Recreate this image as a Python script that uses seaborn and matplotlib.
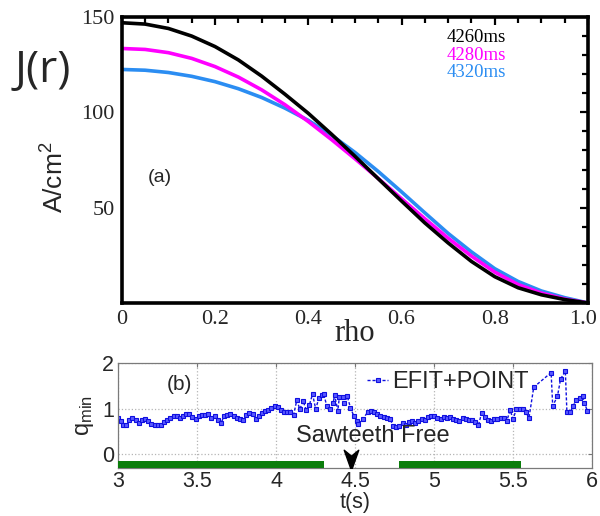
import numpy as np
import pandas as pd
import matplotlib
matplotlib.use("Agg")
import matplotlib.pyplot as plt
import matplotlib.transforms as mtransforms
import seaborn as sns
from matplotlib.path import Path
from matplotlib.ticker import MultipleLocator

# ---------------- data: panel (a) current density profiles ----------------
rho = [0.00, 0.05, 0.10, 0.15, 0.20, 0.25, 0.30, 0.35, 0.40, 0.45, 0.50,
       0.55, 0.60, 0.65, 0.70, 0.75, 0.80, 0.85, 0.90, 0.95, 1.00]
j_4260 = [147.0, 146.3, 144.0, 140.0, 134.5, 127.5, 119.0, 109.5, 99.5, 88.5, 77.0,
          65.2, 53.5, 42.0, 31.5, 21.8, 13.8, 8.0, 4.3, 1.8, 0.0]
j_4280 = [133.5, 133.0, 131.3, 128.3, 124.0, 118.5, 111.8, 104.0, 95.2, 85.7, 75.7,
          65.3, 54.7, 44.2, 34.0, 24.6, 16.2, 9.7, 5.2, 2.1, 0.0]
j_4320 = [122.5, 122.1, 120.9, 118.9, 116.1, 112.4, 107.8, 102.2, 95.8, 88.0, 79.0,
          69.0, 58.3, 47.3, 36.5, 26.8, 18.0, 11.3, 6.3, 2.8, 0.0]
profile_labels = ["4260ms", "4280ms", "4320ms"]
profile_colors = ["#000000", "#ff00ff", "#2b8df2"]

# ---------------- data: panel (b) q_min time trace ----------------
t_s = [3.00, 3.02, 3.03, 3.05, 3.07, 3.09, 3.11, 3.13, 3.15, 3.17, 3.19, 3.21, 3.23, 3.25,
       3.27, 3.29, 3.31, 3.33, 3.35, 3.37, 3.39, 3.41, 3.43, 3.45, 3.47, 3.49, 3.51, 3.53,
       3.55, 3.57, 3.59, 3.61, 3.63, 3.65, 3.67, 3.69, 3.71, 3.73, 3.75, 3.77, 3.79, 3.81,
       3.83, 3.85, 3.87, 3.89, 3.91, 3.93, 3.95, 3.97, 3.99, 4.01, 4.03, 4.05, 4.07, 4.09,
       4.11, 4.13, 4.15, 4.17, 4.19, 4.21, 4.23, 4.25, 4.27, 4.29, 4.30, 4.32, 4.34, 4.36,
       4.37, 4.39, 4.40, 4.42, 4.43, 4.45, 4.47, 4.49, 4.51, 4.52, 4.55, 4.58, 4.60, 4.62,
       4.64, 4.66, 4.68, 4.70, 4.72, 4.74, 4.76, 4.78, 4.80, 4.82, 4.84, 4.86, 4.88, 4.90,
       4.92, 4.94, 4.96, 4.98, 5.00, 5.02, 5.04, 5.06, 5.08, 5.10, 5.12, 5.14, 5.16, 5.18,
       5.20, 5.22, 5.24, 5.26, 5.28, 5.30, 5.32, 5.34, 5.36, 5.38, 5.40, 5.42, 5.44, 5.46,
       5.48, 5.50, 5.52, 5.54, 5.56, 5.58, 5.60, 5.63, 5.74, 5.75, 5.78, 5.80, 5.83, 5.84,
       5.86, 5.88, 5.90, 5.92, 5.94, 5.95, 5.97]
q_min = [0.79, 0.74, 0.65, 0.65, 0.76, 0.79, 0.76, 0.68, 0.76, 0.78, 0.72, 0.67, 0.65, 0.64,
         0.65, 0.70, 0.76, 0.80, 0.84, 0.85, 0.79, 0.84, 0.88, 0.88, 0.81, 0.77, 0.83, 0.87,
         0.87, 0.88, 0.80, 0.83, 0.76, 0.68, 0.83, 0.87, 0.88, 0.84, 0.79, 0.77, 0.76, 0.86,
         0.91, 0.88, 0.78, 0.84, 0.91, 0.95, 0.98, 1.02, 1.05, 1.04, 0.96, 0.93, 0.92, 0.93,
         0.86, 1.18, 0.99, 1.17, 0.97, 1.08, 1.32, 0.99, 1.23, 1.30, 1.33, 1.06, 0.99, 1.12,
         1.30, 0.95, 1.26, 1.26, 1.12, 1.27, 1.02, 0.85, 0.72, 0.66, 0.78, 0.93, 0.95, 0.93,
         0.88, 0.84, 0.81, 0.80, 0.78, 0.62, 0.60, 0.62, 0.68, 0.64, 0.70, 0.72, 0.68, 0.74,
         0.78, 0.76, 0.82, 0.84, 0.85, 0.80, 0.78, 0.82, 0.80, 0.81, 0.78, 0.75, 0.72, 0.80,
         0.78, 0.75, 0.76, 0.71, 0.64, 0.90, 0.82, 0.76, 0.72, 0.78, 0.77, 0.79, 0.80, 0.74,
         0.96, 0.78, 0.99, 1.00, 0.99, 0.92, 0.80, 1.47, 1.79, 1.06, 1.27, 1.65, 1.82, 0.92,
         0.92, 1.06, 1.20, 1.23, 1.27, 1.13, 0.95]
series_label = "EFIT+POINT"
sawtooth_free_spans = [(3.00, 4.30), (4.78, 5.55)]
arrow_t, arrow_q = 4.475, -0.05
t_ticks = [3, 3.5, 4, 4.5, 5, 5.5, 6]
t_ticklabels = ["3", "3.5", "4", "4.5", "5", "5.5", "6"]
rho_ticks = [0, 0.2, 0.4, 0.6, 0.8, 1.0]
rho_ticklabels = ["0", "0.2", "0.4", "0.6", "0.8", "1.0"]

# ---------------- figure ----------------
sns.set_theme(style="white")
plt.rcParams["font.family"] = ["Liberation Sans", "DejaVu Sans"]
plt.rcParams["mathtext.fontset"] = "custom"
plt.rcParams["mathtext.rm"] = "Liberation Sans"
plt.rcParams["mathtext.it"] = "Liberation Sans:italic"

fig = plt.figure(figsize=(6.0, 5.16), dpi=100)
ax1 = fig.add_axes([0.203, 0.4128, 0.777, 0.5542])
ax2 = fig.add_axes([0.197, 0.093, 0.790, 0.2035])

# ---- panel (a)
df_a = pd.DataFrame({
    "rho": rho * 3,
    "J": j_4260 + j_4280 + j_4320,
    "time": [profile_labels[0]] * len(rho) + [profile_labels[1]] * len(rho)
            + [profile_labels[2]] * len(rho),
})
sns.lineplot(data=df_a, x="rho", y="J", hue="time", hue_order=profile_labels[::-1],
             palette=dict(zip(profile_labels, profile_colors)), linewidth=2.6,
             solid_joinstyle="round", legend=False, ax=ax1)
ax1.set_xlim(0, 1.0)
ax1.set_ylim(0, 150)
ax1.set_xticks(rho_ticks)
ax1.set_xticklabels(rho_ticklabels)
ax1.set_yticks([50, 100, 150])
ax1.xaxis.set_minor_locator(MultipleLocator(0.05))
ax1.yaxis.set_minor_locator(MultipleLocator(10))
ax1.tick_params(which="both", direction="in", top=True, right=True, width=1.6,
                color="black")
ax1.tick_params(which="major", length=6, labelsize=16, pad=5)
ax1.tick_params(which="minor", length=4)
for lab in ax1.get_xticklabels() + ax1.get_yticklabels():
    lab.set_fontfamily("Liberation Serif")
# keep the last rho label inside the canvas
last_lab = ax1.get_xticklabels()[-1]
last_lab.set_transform(last_lab.get_transform()
                       + mtransforms.ScaledTranslation(-5 / 100, 0, fig.dpi_scale_trans))
for sp in ax1.spines.values():
    sp.set_linewidth(2.6)
    sp.set_color("black")
ax1.set_xlabel("rho", fontsize=22, fontfamily="Liberation Serif", labelpad=-7)
ax1.set_ylabel(r"A/cm$^{\mathregular{2}}$", fontsize=19, labelpad=0)
ax1.yaxis.set_label_coords(-0.115, 0.44)
ax1.text(0.056, 0.44, "(a)", transform=ax1.transAxes, fontsize=14, va="center")
for i, (lab, col) in enumerate(zip(profile_labels, profile_colors)):
    ax1.text(0.697, 0.927 - 0.061 * i, lab, color=col, transform=ax1.transAxes,
             fontsize=13.5, fontfamily="Liberation Serif", va="center")
fig.text(0.025, 0.862, "J(r)", fontsize=32, fontfamily="Open Sans", va="center")

# ---- panel (b)
df_b = pd.DataFrame({"t": t_s, "q": q_min})
sns.lineplot(data=df_b, x="t", y="q", color="#0f0fe0", linewidth=1.0,
             linestyle=(0, (2.2, 1.4)), marker="s", markersize=3.2,
             markerfacecolor="#5a5aff", markeredgecolor="#0f0fe0", markeredgewidth=0.8,
             label=series_label, ax=ax2)
for start, stop in sawtooth_free_spans:
    ax2.broken_barh([(start, stop - start)], (-0.3, 0.15), facecolor="#0b7d0b",
                    edgecolor="none", zorder=3)
arrow_marker = Path([(0, -1.0), (-0.55, 0.55), (0, 0.1), (0.55, 0.55), (0, -1.0)],
                    [Path.MOVETO, Path.LINETO, Path.LINETO, Path.LINETO, Path.CLOSEPOLY])
ax2.plot([arrow_t], [arrow_q], marker=arrow_marker, markersize=19, color="black",
         linestyle="none", zorder=4)
ax2.text(4.61, 0.40, "Sawteeth Free", fontsize=17, ha="center", va="center")
ax2.text(3.31, 1.54, "(b)", fontsize=15, va="center")
ax2.set_xlim(3, 6)
ax2.set_ylim(-0.3, 2)
ax2.set_xticks(t_ticks)
ax2.set_xticklabels(t_ticklabels)
ax2.set_yticks([0, 1, 2])
ax2.grid(True, linestyle=":", color="#b5b5b5", linewidth=0.9)
ax2.tick_params(direction="in", length=3, width=0.8, color="#777777",
                labelsize=15.5, top=True, right=True, pad=2)
ax2.tick_params(axis="y", pad=3)
for sp in ax2.spines.values():
    sp.set_linewidth(0.9)
    sp.set_color("#7a7a7a")
ax2.set_xlabel("t(s)", fontsize=15.5, labelpad=0)
ax2.set_ylabel(r"q$_{\mathregular{min}}$", fontsize=17, labelpad=4)
ax2.legend(loc="upper right", bbox_to_anchor=(0.9, 1.08), frameon=False,
           fontsize=17, handlelength=0.9, handletextpad=0.15, borderpad=0.2)

fig.savefig("out.png", dpi=100)
